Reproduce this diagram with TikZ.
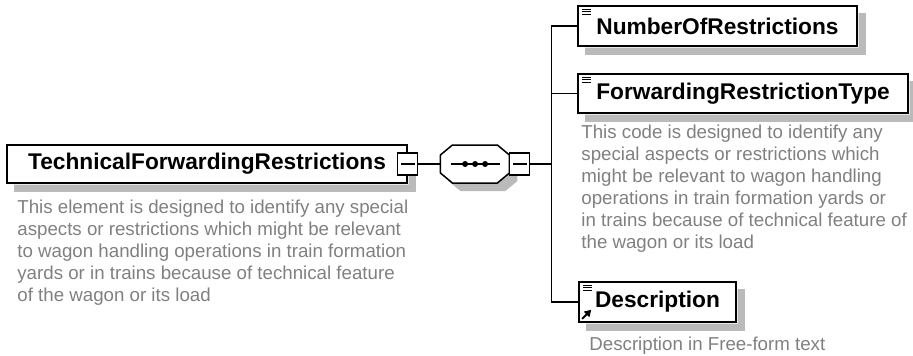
\documentclass[tikz,border=0pt]{standalone}
\usepackage{fontspec}
\setmainfont{Liberation Sans}
\usetikzlibrary{positioning, calc, arrows.meta}

\colorlet{shadowgray}{black!27}
\definecolor{descgray}{RGB}{128,128,128}

\begin{document}
\begin{tikzpicture}[
    x=1pt, y=1pt,
    % Define node styles
    elem/.style={rectangle, draw, line width=1.6pt, fill=white, inner sep=0pt,
        font=\fontsize{22.7}{27}\selectfont\bfseries},
    leaf/.style={elem, minimum height=40pt},
    minus/.style={rectangle, draw, line width=1.2pt, fill=white, minimum width=20pt, minimum height=22pt, inner sep=0pt,
        path picture={\draw[line width=1.2pt] ([xshift=3pt]path picture bounding box.west) -- ([xshift=-3pt]path picture bounding box.east);}},
    desc/.style={align=left, inner sep=0pt, text=descgray, font=\fontsize{18.7}{22}\selectfont},
    % Define edge style
    edge/.style={line width=1.8pt},
]
\useasboundingbox (0,0) rectangle (913,-356);

% Drawing the root element with its description
\node[elem, minimum width=400pt, minimum height=38pt] (TFR) at (207,-164) {TechnicalForwardingRestrictions};
\node[desc, below=16pt of TFR.south west, anchor=north west, xshift=11pt] (TFRdesc)
    {This element is designed to identify any special\\aspects or restrictions which might be relevant\\to wagon handling operations in train formation\\yards or in trains because of technical feature\\of the wagon or its load};

% Drawing the child elements
\node[leaf, minimum width=279pt] (NOR) at (717.5,-26) {NumberOfRestrictions};
\node[leaf, minimum width=330pt, minimum height=39pt] (FRT) at (743,-93.5) {ForwardingRestrictionType};
\node[desc, below=11pt of FRT.south west, anchor=north west, xshift=4pt] (FRTdesc)
    {This code is designed to identify any\\special aspects or restrictions which\\might be relevant to wagon handling\\operations in train formation yards or\\in trains because of technical feature of\\the wagon or its load};
\node[leaf, minimum width=157pt] (Desc) at (657.5,-302) {Description};
\node[desc, below=14pt of Desc.south west, anchor=north west, xshift=11pt] (Descdesc) {Description in Free-form text};

% Box shadows
\foreach \elembox in {TFR, NOR, FRT, Desc} {
    \fill[shadowgray] ([shift={(8,-0.8)}]\elembox.south west) -- ([shift={(0.8,-0.8)}]\elembox.south east)
        -- ([shift={(0.8,-8)}]\elembox.north east) -- ([shift={(8,-8)}]\elembox.north east)
        -- ([shift={(8,-8)}]\elembox.south east) -- ([shift={(8,-8)}]\elembox.south west) -- cycle;
}

% Drawing the sequence compositor
\node[minus] (MinusA) at (TFR.east) {};
\node[minimum width=69pt, minimum height=38pt, inner sep=0pt, right=22pt of MinusA] (Seq) {};
\fill[shadowgray] ([shift={(8,-8)}]Seq.west) ++(0,9) -- ++(12,10) -- ++(45,0) -- ++(12,-10) -- ++(0,-18) -- ++(-12,-10) -- ++(-45,0) -- ++(-12,10) -- cycle;
\draw[line width=1.5pt, fill=white] (Seq.west) ++(0,9) -- ++(12,10) -- ++(45,0) -- ++(12,-10) -- ++(0,-18) -- ++(-12,-10) -- ++(-45,0) -- ++(-12,10) -- cycle;
\draw[line width=1.5pt] ($(Seq.center)+(-24.5,0)$) -- ++(49,0);
\foreach \dx in {-10, 0, 10} {
    \fill ($(Seq.center)+(\dx,0)$) circle (3);
}
\node[minus] (MinusB) at ([xshift=10pt]Seq.east) {};

% Element icons
\foreach \leafbox in {NOR, FRT, Desc} {
    \foreach \dy in {4, 6.5, 9} {
        \draw[line width=1.2pt] ($(\leafbox.north west)+(5,-\dy)$) -- ++(9,0);
    }
}
\draw[line width=2pt, -{Triangle[length=6.5pt, width=7.5pt]}] ($(Desc.south west)+(4,4)$) -- ++(9,9);

% Connecting root, compositor and children
\coordinate (Bus) at ($(MinusB.east)+(21,0)$);
\draw[edge] (MinusA.east) -- (Seq.west);
\draw[edge] (MinusB.east) -- (Bus);
\foreach \leafbox in {NOR, FRT, Desc} {
    \draw[edge] (Bus) |- (\leafbox.west);
}

\end{tikzpicture}
\end{document}
